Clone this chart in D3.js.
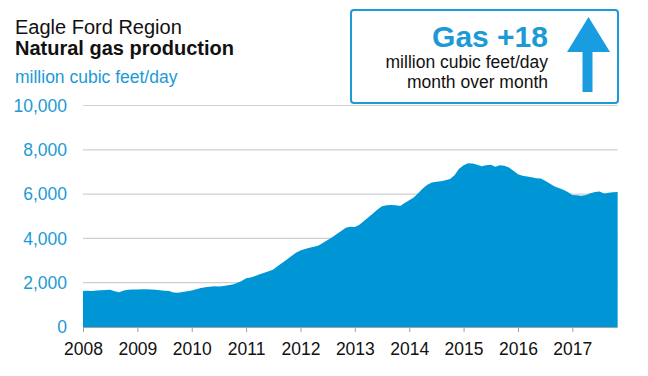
<!DOCTYPE html>
<html><head><meta charset="utf-8">
<script src="https://cdn.jsdelivr.net/npm/d3@7"></script>
<style>
html,body{margin:0;padding:0;background:#fff;}
svg{display:block;font-family:"Liberation Sans",Arial,sans-serif;}
</style></head>
<body>
<svg id="chart" width="648" height="376"></svg>
<script>
// Monthly Eagle Ford natural gas production, Jan 2008 - Nov 2017 (million cubic feet/day)
const startYear = 2008;
const gasProduction = [
  1630,1640,1630,1650,1660,1670,1680,1610,1570,1650,1680,1690,
  1690,1700,1700,1690,1680,1660,1640,1620,1560,1550,1580,1610,
  1650,1700,1760,1790,1820,1840,1830,1850,1880,1920,1990,2080,
  2200,2230,2300,2380,2450,2520,2600,2750,2900,3050,3200,3350,
  3450,3520,3580,3620,3680,3800,3930,4050,4200,4330,4480,4530,
  4520,4620,4780,4950,5120,5300,5450,5500,5510,5500,5460,5600,
  5720,5850,6050,6250,6420,6520,6560,6580,6620,6680,6850,7150,
  7300,7390,7380,7320,7260,7300,7330,7230,7300,7280,7200,7050,
  6900,6830,6790,6760,6720,6700,6600,6480,6350,6280,6200,6100,
  5960,5950,5920,5960,6040,6100,6120,6030,6060,6080,6100
];
const yearTicks = [2008,2009,2010,2011,2012,2013,2014,2015,2016,2017];
const valueTicks = [0,2000,4000,6000,8000,10000];
const titleLines = ["Eagle Ford Region","Natural gas production"];
const unitLabel = "million cubic feet/day";
const badgeHeadline = "Gas +18";
const badgeLines = ["million cubic feet/day","month over month"];

const blue = "#0096d6";
const textBlue = "#1b9ad6";

const svg = d3.select("#chart");
const data = gasProduction.map((v,i)=>({t:startYear + i/12, v}));

const x = d3.scaleLinear().domain([2008,2018]).range([83,626.7]);
const y = d3.scaleLinear().domain([0,10000]).range([327,105.5]);
const xEnd = x(data[data.length-1].t);

// gridlines
svg.append("g").selectAll("line").data(valueTicks.filter(d=>d>0)).join("line")
  .attr("x1",x(2008)).attr("x2",xEnd)
  .attr("y1",d=>y(d)).attr("y2",d=>y(d))
  .attr("stroke","#cfcfcf").attr("stroke-width",1.2);

// area
const area = d3.area().x(d=>x(d.t)).y0(y(0)).y1(d=>y(d.v));
svg.append("path").datum(data).attr("d",area).attr("fill",blue);

// x axis
const xAxis = svg.append("g").attr("transform",`translate(0,${y(0)})`)
  .call(d3.axisBottom(x).tickValues(yearTicks).tickFormat(d3.format("d")).tickSize(5).tickSizeOuter(0));
xAxis.select(".domain").attr("stroke","#a0a0a0").attr("d",`M${x(2008)},0.5H${xEnd}`);
xAxis.selectAll(".tick line").attr("stroke","#a0a0a0");
xAxis.selectAll(".tick text").attr("fill","#111").attr("font-size","17.5px")
  .attr("font-family","'Liberation Sans',Arial,sans-serif").attr("y",16);

// y axis
const yAxis = svg.append("g").attr("transform",`translate(67,0)`)
  .call(d3.axisLeft(y).tickValues(valueTicks).tickFormat(d3.format(",")).tickSize(0));
yAxis.select(".domain").remove();
yAxis.selectAll(".tick text").attr("fill",textBlue).attr("font-size","17.5px")
  .attr("font-family","'Liberation Sans',Arial,sans-serif").attr("x",0);

// titles
svg.append("text").attr("x",15).attr("y",34).attr("font-size","20px").attr("fill","#111").text(titleLines[0]);
svg.append("text").attr("x",15).attr("y",55).attr("font-size","20px").attr("font-weight","bold").attr("fill","#111").text(titleLines[1]);
svg.append("text").attr("x",15).attr("y",83).attr("font-size","17.5px").attr("fill",textBlue).text(unitLabel);

// badge
svg.append("rect").attr("x",351).attr("y",10).attr("width",267).attr("height",93).attr("rx",3)
  .attr("fill","#fff").attr("stroke",textBlue).attr("stroke-width",2);
svg.append("text").attr("x",548).attr("y",47).attr("text-anchor","end").attr("font-size","30px")
  .attr("font-weight","bold").attr("fill",textBlue).text(badgeHeadline);
badgeLines.forEach((t,i)=>svg.append("text").attr("x",548).attr("y",68+i*20).attr("text-anchor","end")
  .attr("font-size","17.5px").attr("fill","#111").text(t));
svg.append("path").attr("fill","#1a9de0")
  .attr("d","M588.5,17L610,52H592.5V92H582.5V52H567Z");
</script>
</body></html>
